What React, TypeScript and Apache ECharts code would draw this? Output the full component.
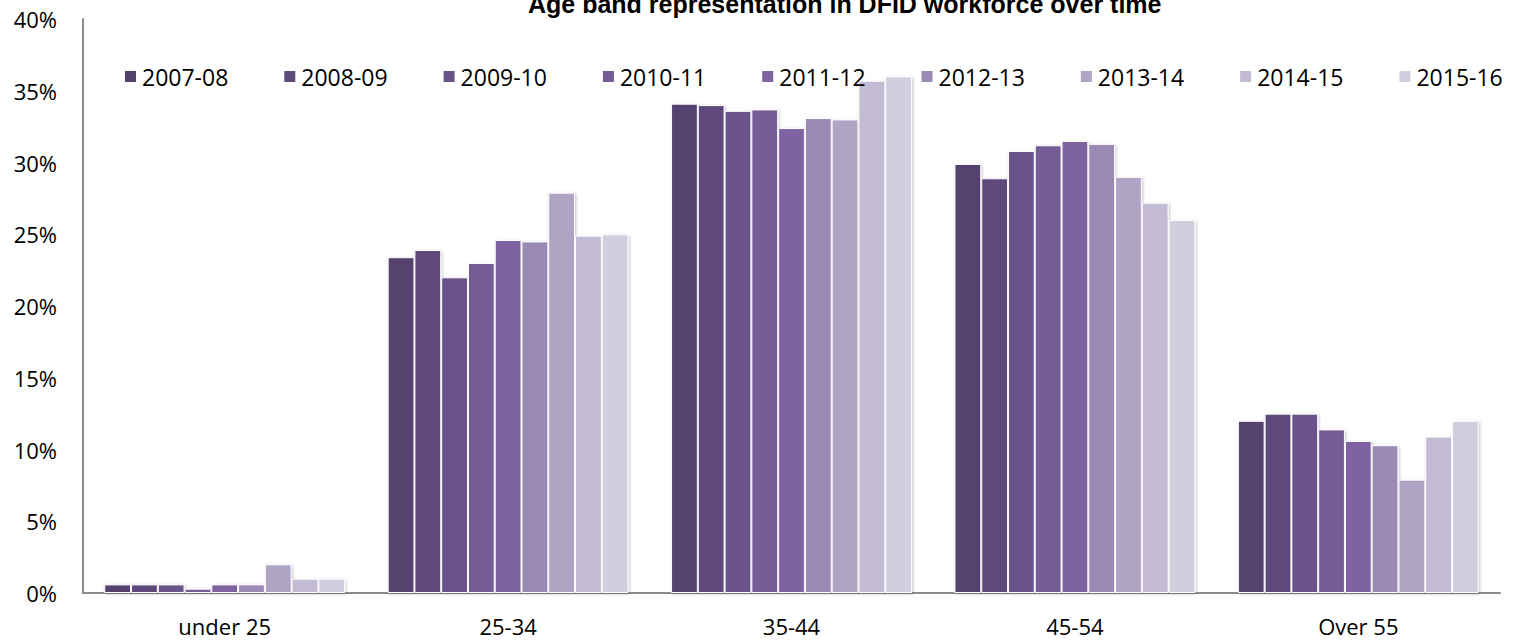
import React, { useEffect, useRef } from "react";
import * as echarts from "echarts";

const categories = ["under 25", "25-34", "35-44", "45-54", "Over 55"];
const years = ["2007-08", "2008-09", "2009-10", "2010-11", "2011-12", "2012-13", "2013-14", "2014-15", "2015-16"];
const colors = ["#54426E", "#5F4A7C", "#6A5389", "#745C95", "#7F64A0", "#9B8AB3", "#B0A4C5", "#C3BAD3", "#D3CDE0"];

// values per year, in percent, across age bands
const v2007 = [0.6, 23.4, 34.1, 29.9, 12.0];
const v2008 = [0.6, 23.9, 34.0, 28.9, 12.5];
const v2009 = [0.6, 22.0, 33.6, 30.8, 12.5];
const v2010 = [0.3, 23.0, 33.7, 31.2, 11.4];
const v2011 = [0.6, 24.6, 32.4, 31.5, 10.6];
const v2012 = [0.6, 24.5, 33.1, 31.3, 10.3];
const v2013 = [2.0, 27.9, 33.0, 29.0, 7.9];
const v2014 = [1.0, 24.9, 35.7, 27.2, 10.9];
const v2015 = [1.0, 25.0, 36.0, 26.0, 12.0];
const allValues = [v2007, v2008, v2009, v2010, v2011, v2012, v2013, v2014, v2015];

const yTickLabels = ["0%", "5%", "10%", "15%", "20%", "25%", "30%", "35%", "40%"];

const titleText = "Age band representation in DFID workforce over time";
const FONT = "'Open Sans', sans-serif";

export default function App() {
  const ref = useRef<HTMLDivElement>(null);
  useEffect(() => {
    document.body.style.margin = "0";
    if (!ref.current) return;
    const chart = echarts.init(ref.current, null, { renderer: "svg" });
    chart.setOption({
      animation: false,
      backgroundColor: "#ffffff",
      title: {
        text: titleText,
        left: 528,
        top: -9,
        padding: 0,
        textStyle: { fontFamily: "'Liberation Sans', Arial, sans-serif", fontWeight: "bold", fontSize: 25, color: "#000" },
      },
      legend: {
        data: years,
        left: 123,
        top: 65,
        itemWidth: 13,
        itemHeight: 13,
        itemGap: 54,
        icon: "rect",
        padding: 0,
        textStyle: { fontFamily: FONT, fontSize: 23, color: "#000" },
      },
      grid: { left: 83, right: 19, top: 19, bottom: 48, containLabel: false },
      xAxis: {
        type: "category",
        data: categories,
        axisLine: { show: true, lineStyle: { color: "#8c8c8c", width: 2 } },
        axisTick: { show: false },
        axisLabel: { fontFamily: FONT, fontSize: 22, color: "#000", margin: 22 },
        splitLine: { show: false },
      },
      yAxis: {
        type: "value",
        min: 0,
        max: 40,
        interval: 5,
        axisLine: { show: true, lineStyle: { color: "#8c8c8c", width: 2 } },
        axisTick: { show: false },
        splitLine: { show: false },
        axisLabel: {
          fontFamily: FONT,
          fontSize: 22,
          color: "#000",
          margin: 26,
          formatter: (v: number) => yTickLabels[Math.round(v / 5)] ?? v + "%",
        },
      },
      series: years.map((y, i) => ({
        name: y,
        type: "bar",
        data: allValues[i],
        barGap: "0%",
        barCategoryGap: "15%",
        itemStyle: {
          color: colors[i],
          borderColor: "#ffffff",
          borderWidth: 1,
          shadowBlur: 3,
          shadowColor: "rgba(0,0,0,0.25)",
          shadowOffsetX: 1,
          shadowOffsetY: 1,
        },
      })),
    });
    return () => chart.dispose();
  }, []);
  return <div ref={ref} style={{ width: 1519, height: 641 }} />;
}
